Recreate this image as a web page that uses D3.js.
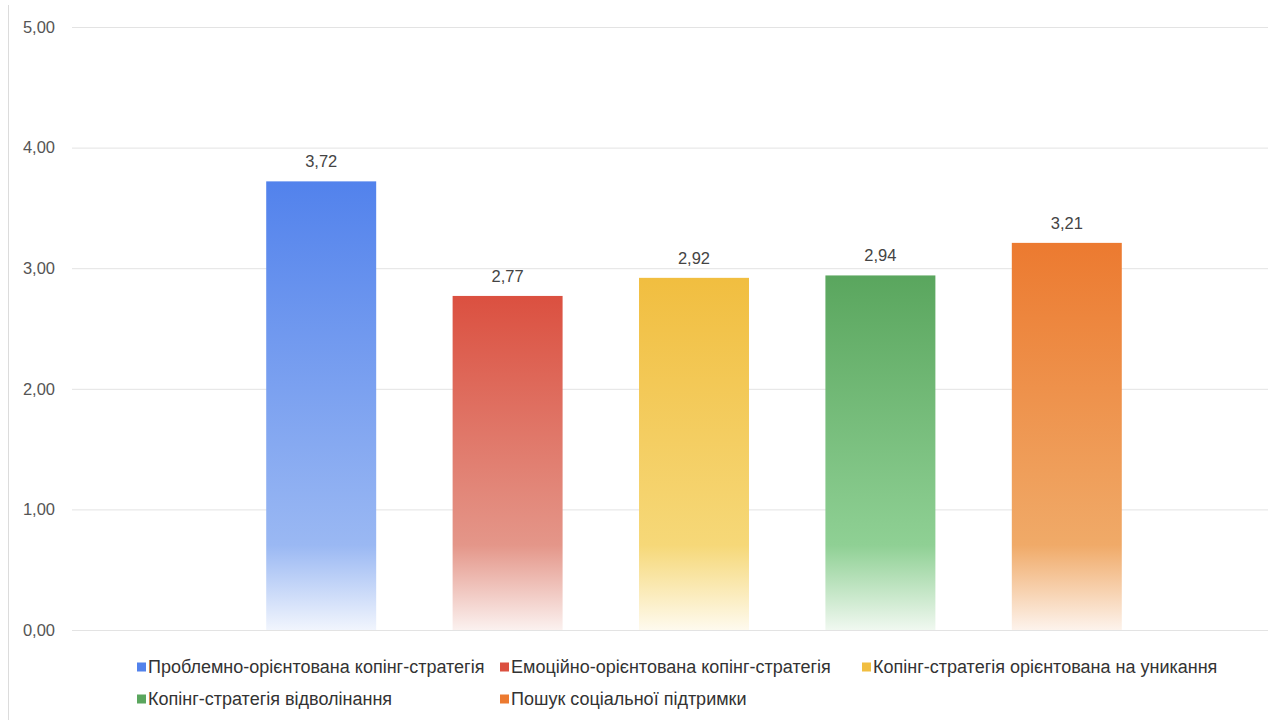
<!DOCTYPE html>
<html>
<head>
<meta charset="utf-8">
<script src="https://cdn.jsdelivr.net/npm/d3@7"></script>
<style>
  html, body { margin: 0; padding: 0; background: #fff; }
  svg { display: block; font-family: "Liberation Sans", Arial, Helvetica, sans-serif; }
</style>
</head>
<body>
<svg id="chart" width="1273" height="720"></svg>
<script>
// Coping strategy mean scores
const categories = [
  "Проблемно-орієнтована копінг-стратегія",
  "Емоційно-орієнтована копінг-стратегія",
  "Копінг-стратегія орієнтована на уникання",
  "Копінг-стратегія відволінання",
  "Пошук соціальної підтримки"
];
const values = [3.72, 2.77, 2.92, 2.94, 3.21];
const yTicks = [0, 1, 2, 3, 4, 5];

// Top colour, lighter mid tone, and pale bottom tint of each bar's fill
const topColors = ["#5282ec", "#db5040", "#f1be40", "#5aa65e", "#ec7a30"];
const midColors = ["#9ab8f3", "#e49689", "#f6d878", "#8fd094", "#f0aa68"];
const baseColors = ["#f1f5fd", "#fbf1ef", "#fefaee", "#f0f8f0", "#fdf3ec"];

const svg = d3.select("#chart");
const W = 1273, H = 720;
const plot = { left: 72, right: 1268, top: 27, bottom: 630 };

const fmt = v => d3.format(".2f")(v).replace(".", ",");

const y = d3.scaleLinear().domain([0, 5]).range([plot.bottom, plot.top]);
const x = d3.scaleBand()
  .domain(categories)
  .range([228, 1160])
  .paddingInner(0.41)
  .paddingOuter(0.205);

// Left border line
svg.append("line")
  .attr("x1", 8.5).attr("x2", 8.5)
  .attr("y1", 5).attr("y2", H)
  .attr("stroke", "#dcdcdc").attr("stroke-width", 1);

// Horizontal grid and value axis
const yAxis = d3.axisLeft(y)
  .tickValues(yTicks)
  .tickSize(-(plot.right - plot.left))
  .tickPadding(17)
  .tickFormat(fmt);

const gAxis = svg.append("g")
  .attr("transform", `translate(${plot.left},0)`)
  .call(yAxis);
gAxis.select(".domain").remove();
gAxis.selectAll(".tick line").attr("stroke", "#e3e3e3");
gAxis.selectAll(".tick text")
  .attr("fill", "#555")
  .style("font-size", "16.5px")
  .style("font-family", "'Liberation Sans', Arial, sans-serif");

// Gradients, one per bar, fading toward the baseline
const defs = svg.append("defs");
categories.forEach((c, i) => {
  const top = y(values[i]);
  const h = plot.bottom - top;
  const midOff = Math.max(0, (h - 85) / h);
  const g = defs.append("linearGradient")
    .attr("id", "grad" + i)
    .attr("x1", 0).attr("y1", 0).attr("x2", 0).attr("y2", 1);
  g.append("stop").attr("offset", 0).attr("stop-color", topColors[i]);
  g.append("stop").attr("offset", midOff).attr("stop-color", midColors[i]);
  g.append("stop").attr("offset", 1).attr("stop-color", baseColors[i]);
});

// Bars
svg.append("g")
  .selectAll("rect")
  .data(categories)
  .join("rect")
  .attr("x", d => x(d))
  .attr("width", x.bandwidth())
  .attr("y", (d, i) => y(values[i]))
  .attr("height", (d, i) => plot.bottom - y(values[i]))
  .attr("fill", (d, i) => `url(#grad${i})`);

// Value labels
svg.append("g")
  .selectAll("text")
  .data(categories)
  .join("text")
  .attr("x", d => x(d) + x.bandwidth() / 2)
  .attr("y", (d, i) => y(values[i]) - 14)
  .attr("text-anchor", "middle")
  .attr("fill", "#444")
  .style("font-size", "16.5px")
  .text((d, i) => fmt(values[i]));

// Legend in a three-column grid
const legendCols = [137, 500, 862];
const legendRows = [667, 699];
const legend = svg.append("g")
  .selectAll("g")
  .data(categories)
  .join("g")
  .attr("transform", (d, i) => `translate(${legendCols[i % 3]},${legendRows[Math.floor(i / 3)]})`);

legend.append("rect")
  .attr("x", 0).attr("y", -4.5)
  .attr("width", 9).attr("height", 9)
  .attr("fill", (d, i) => topColors[i]);

legend.append("text")
  .attr("x", 11)
  .attr("y", 0)
  .attr("dy", "0.35em")
  .attr("fill", "#333")
  .style("font-size", "18px")
  .text(d => d);
</script>
</body>
</html>
